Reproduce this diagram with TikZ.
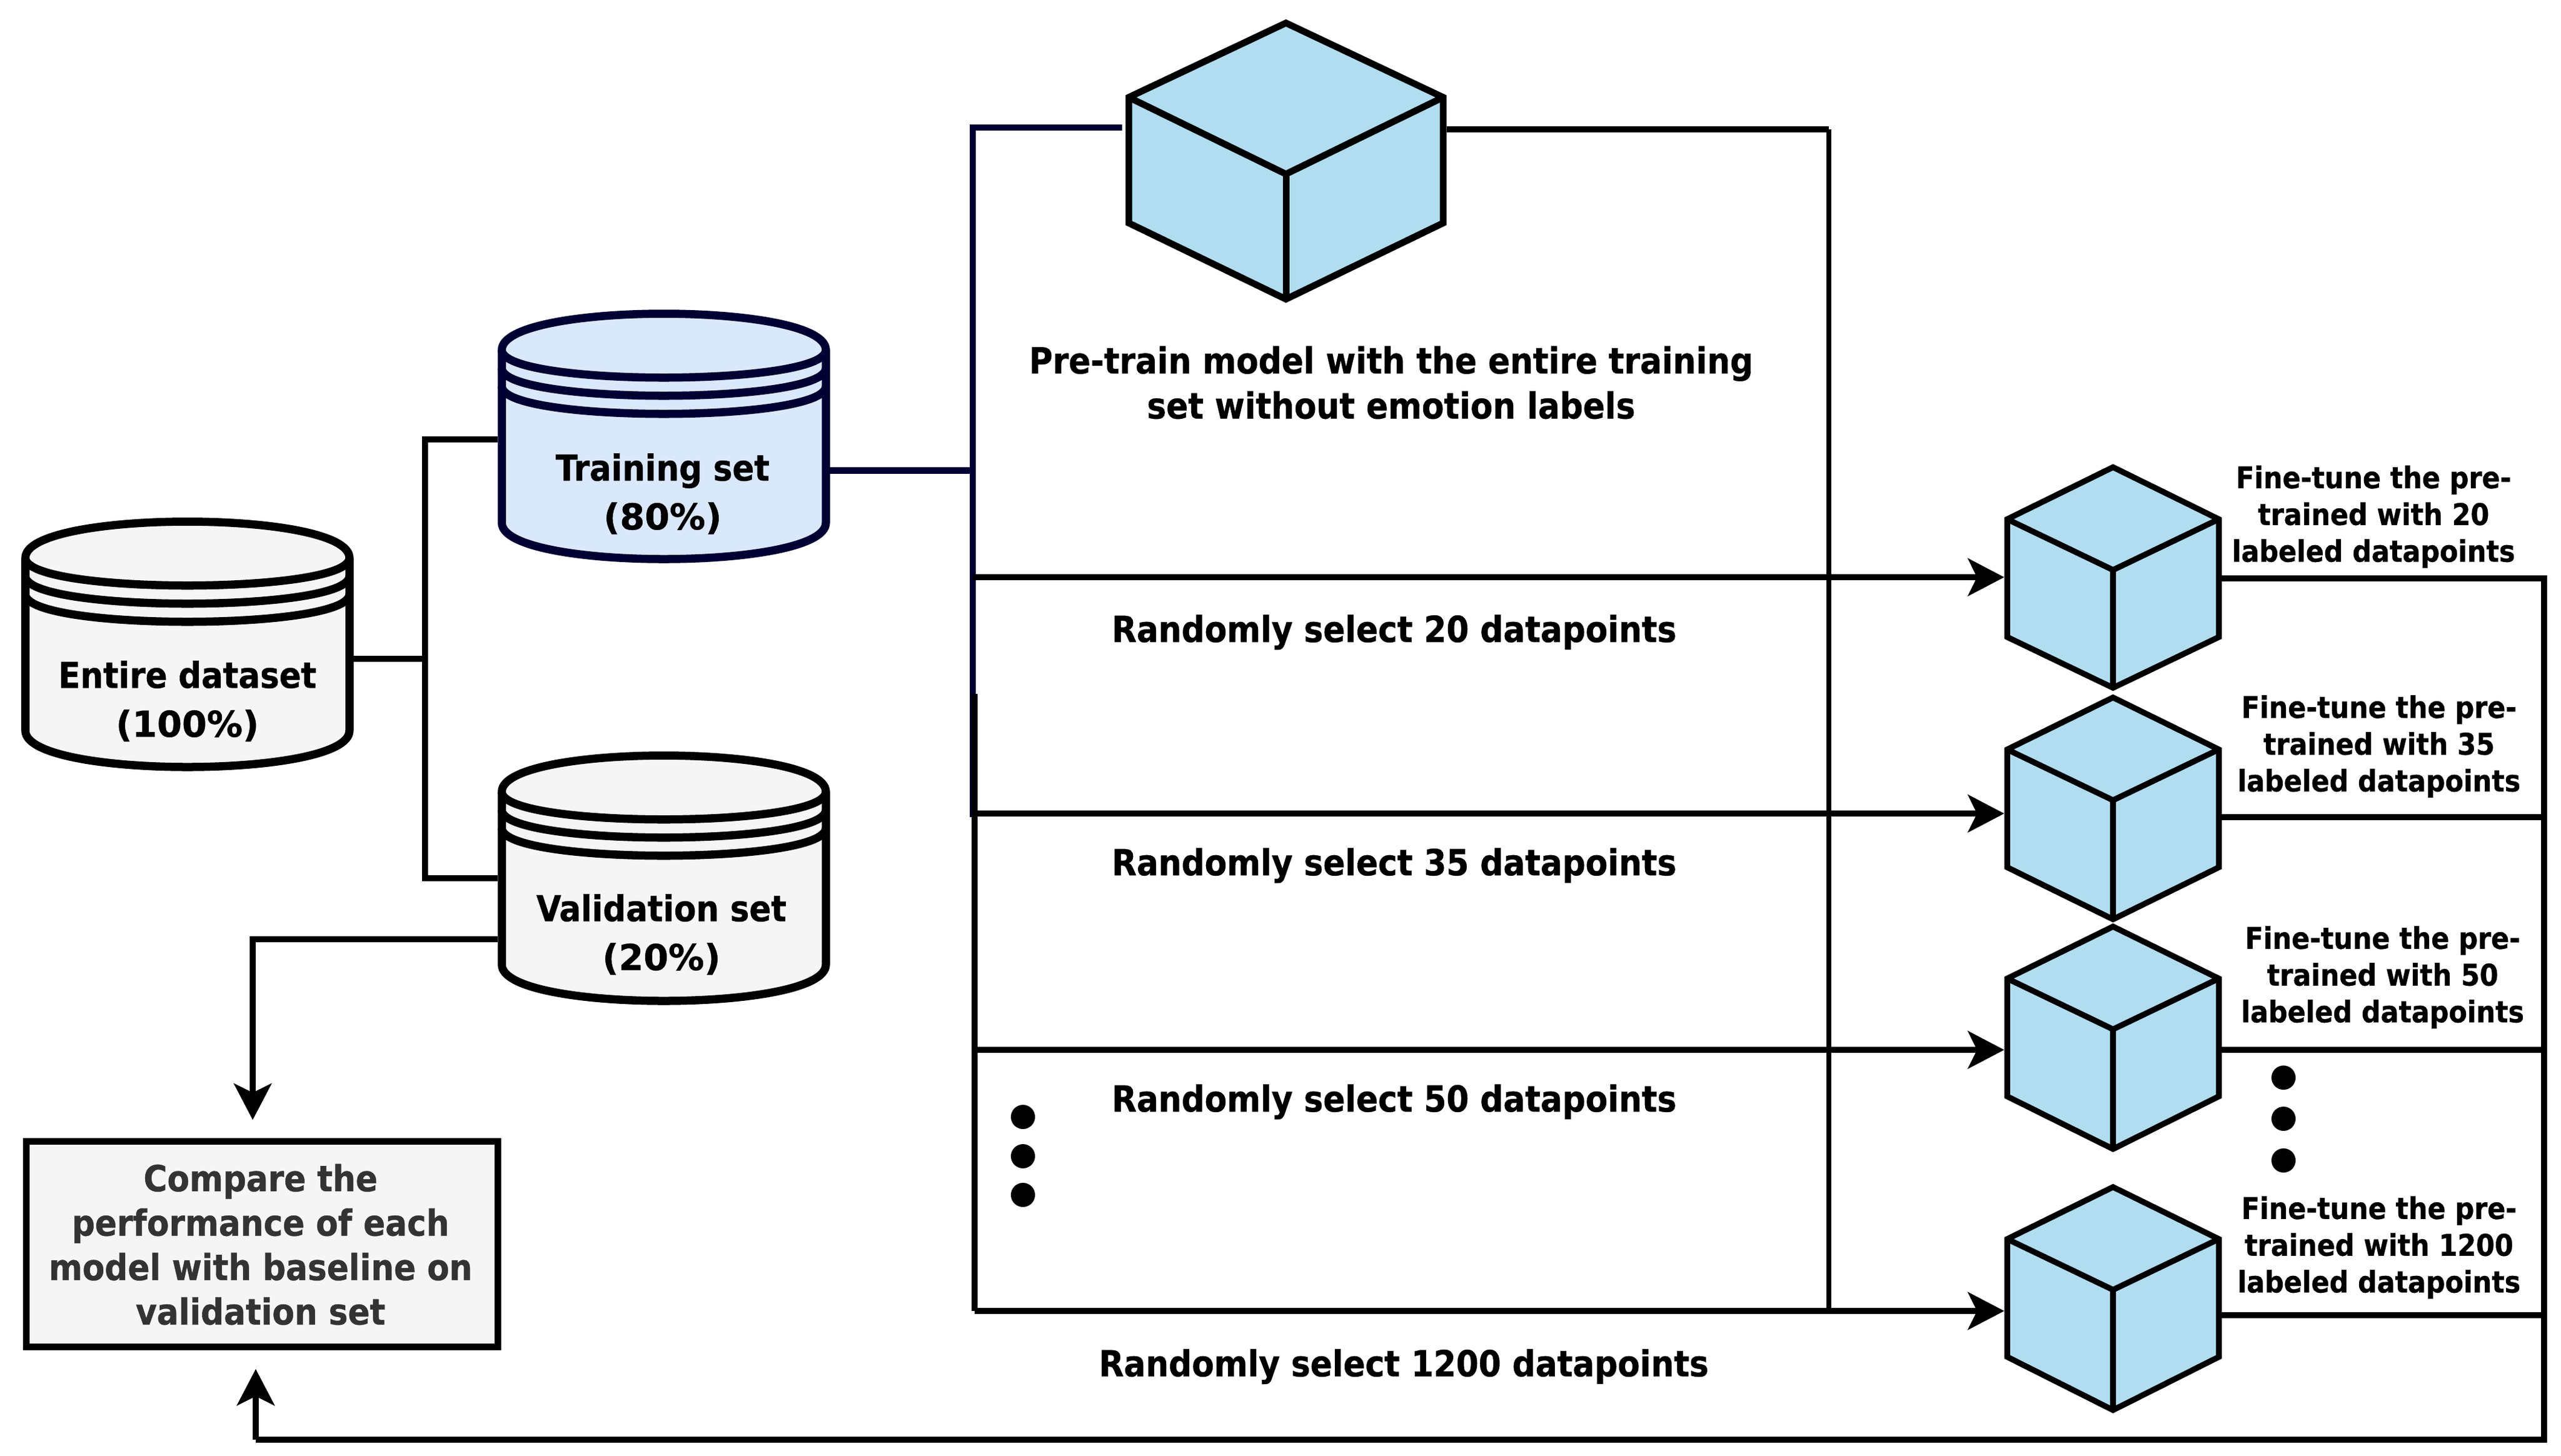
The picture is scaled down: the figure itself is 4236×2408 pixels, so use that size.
\documentclass[tikz,border=0pt]{standalone}
\usepackage{fontspec}
\setmainfont{DejaVu Sans Condensed}[BoldFont=* Bold,BoldFeatures={FakeBold=0.7}]
\newfontfamily\widefont{DejaVu Sans}[BoldFont=* Bold,BoldFeatures={FakeBold=0.7}]
\usetikzlibrary{arrows.meta,backgrounds,calc}
\definecolor{cubefill}{HTML}{B1DDF0}
\definecolor{greyfill}{HTML}{F5F5F5}
\definecolor{bluefill}{HTML}{DAE8FC}
\definecolor{navy}{HTML}{000033}
\definecolor{greytext}{HTML}{333333}
\tikzset{
  x=0.01cm,y=-0.01cm,
  wire/.style={line width=1mm,line join=miter,line cap=butt},
  arr/.style={wire,-{Stealth[length=6mm,width=6.2mm,inset=1.5mm]}},
  anchorbox/.style={inner sep=0pt,outer sep=0pt,draw=none},
  txt/.style={inner sep=0pt,outer sep=0pt,align=center,anchor=center,font=\bfseries\fontsize{16.8pt}{23pt}\selectfont},
  mid/.style={txt,font=\bfseries\fontsize{16.9pt}{21.2pt}\selectfont},
  cmptxt/.style={txt,font=\bfseries\fontsize{16.9pt}{20.9pt}\selectfont},
  small/.style={txt,font=\bfseries\fontsize{14pt}{17.3pt}\selectfont},
  dot/.style={circle,fill=black,draw=none,minimum size=4mm,inner sep=0pt},
}
% name, cx, top, fill, stroke
\newcommand{\storecyl}[5]{%
  \node[anchorbox,minimum width=5.5cm,minimum height=4.2cm] (#1) at (#2,#3+203) {};
  \begin{scope}[line width=1.35mm,draw=#5,fill=#4,line join=round]
    \filldraw (#2-268,#3+60) .. controls (#2-268,#3-20) and (#2+268,#3-20) .. (#2+268,#3+60)
       -- (#2+268,#3+346) .. controls (#2+268,#3+426) and (#2-268,#3+426) .. (#2-268,#3+346) -- cycle;
    \draw (#2-268,#3+60) .. controls (#2-268,#3+121) and (#2+268,#3+121) .. (#2+268,#3+60);
    \draw (#2-268,#3+90) .. controls (#2-268,#3+151) and (#2+268,#3+151) .. (#2+268,#3+90);
    \draw (#2-268,#3+120) .. controls (#2-268,#3+181) and (#2+268,#3+181) .. (#2+268,#3+120);
  \end{scope}}
% name, cx, top, half width, corner, mid, lower, total, line width (mm)
\newcommand{\modelcube}[9]{%
  \node[anchorbox,minimum width=#4*0.02cm+#9mm,minimum height=#8*0.01cm+#9mm] (#1) at (#2,#3+#8/2) {};
  \begin{scope}[line width=#9mm,draw=black,line join=miter,fill=cubefill]
    \filldraw (#2,#3) -- (#2+#4,#3+#5) -- (#2+#4,#3+#7) -- (#2,#3+#8) -- (#2-#4,#3+#7) -- (#2-#4,#3+#5) -- cycle;
    \draw (#2-#4,#3+#5) -- (#2,#3+#6) -- (#2+#4,#3+#5);
    \draw (#2,#3+#6) -- (#2,#3+#8);
  \end{scope}}
\begin{document}
\begin{tikzpicture}
\useasboundingbox (0,0) rectangle (4236,2408);
% stores
\storecyl{entire}{310}{863}{greyfill}{black}
\storecyl{train}{1098}{519}{bluefill}{navy}
\storecyl{valid}{1098}{1250}{greyfill}{black}
% compare box
\node[draw=black,line width=1.1mm,fill=greyfill,minimum width=7.79cm,minimum height=3.39cm,inner sep=0pt,outer sep=0pt] (cmp) at (433.5,2058.5) {};
% cubes
\modelcube{big}{2127}{38}{260}{123}{250}{331}{457}{1.1}
\modelcube{c1}{3495}{773}{175}{86}{170}{281}{365}{0.95}
\modelcube{c2}{3495}{1154}{175}{86}{170}{281}{367}{0.95}
\modelcube{c3}{3495}{1533}{175}{86}{170}{281}{368}{0.95}
\modelcube{c4}{3495}{1964}{175}{86}{170}{281}{369}{0.95}
% junction points
\coordinate (jl) at (703,1090);
\coordinate (jt) at (703,727);
\coordinate (jv) at (703,1453);
\coordinate (va) at (418,1554);
\coordinate (tb) at (1609,778);
\coordinate (nt) at (1609,211);
\coordinate (nb) at (1609,1352);
\coordinate (b0) at (1612,1148);
\coordinate (b1) at (1609,955);
\coordinate (b2) at (1612,1346);
\coordinate (b3) at (1612,1737);
\coordinate (b4) at (1612,2169);
\coordinate (rt) at (3025,214);
\coordinate (rb) at (3025,2169);
\coordinate (q1) at (4208,957);
\coordinate (q2) at (4208,1352);
\coordinate (q3) at (4208,1737);
\coordinate (q4) at (4208,2176);
\coordinate (qb) at (4208,2382);
\coordinate (ra) at (423,2382);
\begin{scope}[on background layer]
  \draw[wire] (entire.east |- jl) -- (jl);
  \draw[wire] (train.west |- jt) -- (jt) -- (jv) -- (valid.west |- jv);
  \draw[arr,shorten >=3.6mm] (valid.west |- va) -- (va) -- (va |- cmp.north);
  \draw[wire,draw=navy,line width=1.1mm] (train.east |- tb) -- (tb);
  \draw[wire,draw=navy] ($(big.west |- nt)+(-5,0)$) -- (nt) -- (nb);
  \draw[wire] (b0) -- (b4);
  \draw[arr] (b1) -- (b1 -| c1.west);
  \draw[arr] (b2) -- (b2 -| c2.west);
  \draw[arr] (b3) -- (b3 -| c3.west);
  \draw[arr] (b4) -- (b4 -| c4.west);
  \draw[wire] (big.east |- rt) -- (rt);
  \draw[wire,line width=.8mm] (rt) -- (rb);
  \draw[wire] (c1.east |- q1) -- (q1) -- (qb) -- (ra);
  \draw[arr,shorten >=3.7mm] (ra) -- (ra |- cmp.south);
  \draw[wire] (c2.east |- q2) -- (q2);
  \draw[wire] (c3.east |- q3) -- (q3);
  \draw[wire] (c4.east |- q4) -- (q4);
\end{scope}
% dots
\node[dot] (dl1) at (1692,1848) {};
\node[dot] (dl2) at (1692,1913) {};
\node[dot] (dl3) at (1692,1977) {};
\node[dot] (dr1) at (3777,1783) {};
\node[dot] (dr2) at (3777,1851) {};
\node[dot] (dr3) at (3777,1920) {};
% texts
\node[txt] (tentire) at (310,1160) {Entire dataset\\{\widefont\bfseries(100\%)}};
\node[txt] (ttrain) at (1096,817) {Training set\\{\widefont\bfseries(80\%)}};
\node[txt] (tvalid) at (1094,1546) {Validation set\\{\widefont\bfseries(20\%)}};
\node[cmptxt,text=greytext] (tcmp) at (431,2059) {Compare the\\performance of each\\model with baseline on\\validation set};
\node[mid] (tpre) at (2301,633) {Pre-train model with the entire training\\set without emotion labels};
\node[mid] (r20) at (2306,1046) {Randomly select 20 datapoints};
\node[mid] (r35) at (2306,1432) {Randomly select 35 datapoints};
\node[mid] (r50) at (2306,1823) {Randomly select 50 datapoints};
\node[mid] (r1200) at (2322,2261) {Randomly select 1200 datapoints};
\node[small] (f20) at (3926,855) {Fine-tune the pre-\\trained with 20\\labeled datapoints};
\node[small] (f35) at (3935,1235) {Fine-tune the pre-\\trained with 35\\labeled datapoints};
\node[small] (f50) at (3941,1617) {Fine-tune the pre-\\trained with 50\\labeled datapoints};
\node[small] (f1200) at (3935,2064) {Fine-tune the pre-\\trained with 1200\\labeled datapoints};
\end{tikzpicture}
\end{document}
